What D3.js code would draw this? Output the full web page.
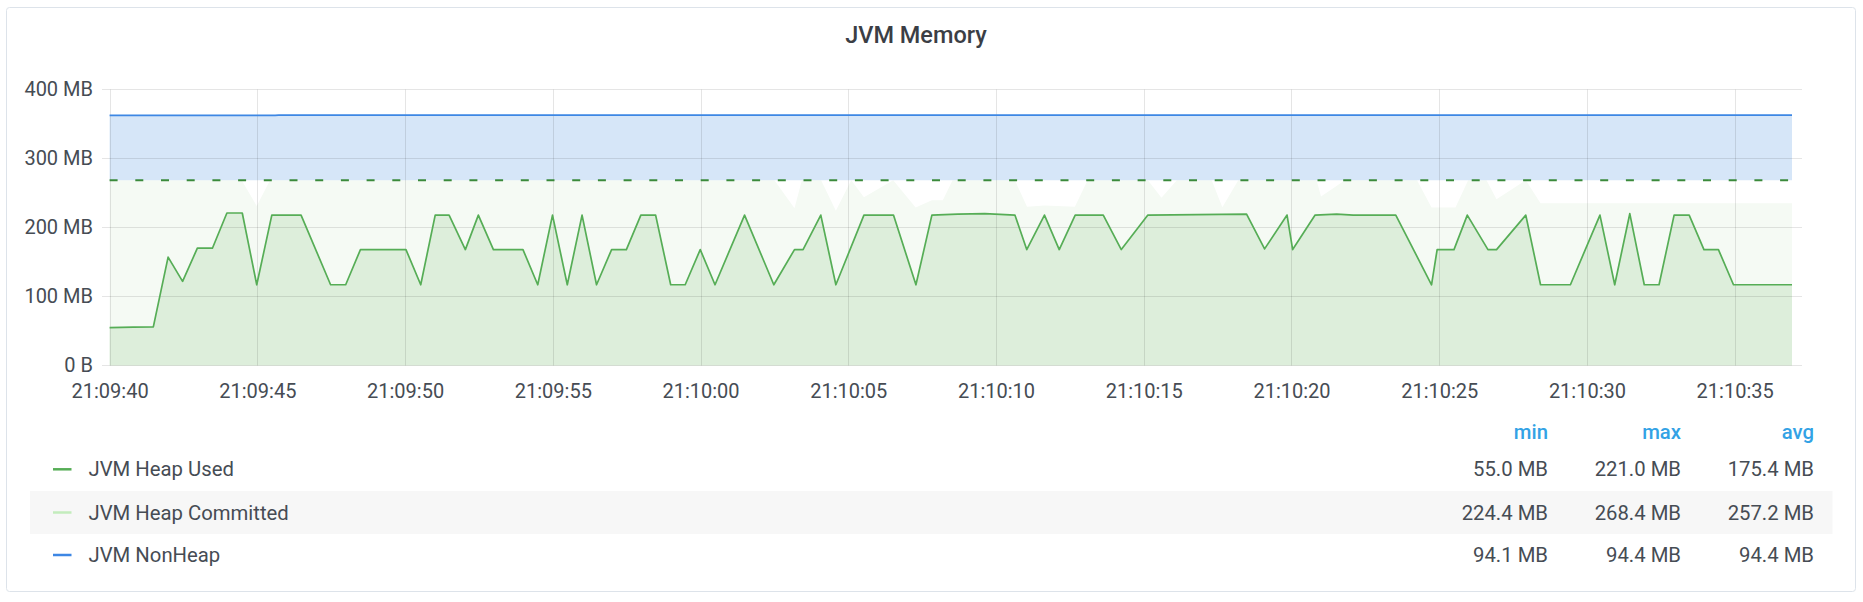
<!DOCTYPE html>
<html><head><meta charset="utf-8">
<script src="https://cdn.jsdelivr.net/npm/d3@7"></script>
<style>
html,body{margin:0;padding:0;background:#fff;}
svg{display:block;font-family:Roboto,"Noto Sans",sans-serif;}
</style></head>
<body>
<svg id="chart" width="1863" height="602"></svg>
<script>
// ---- data (time in seconds after 21:09:40, values in MB) ----
const usedTimes = [0,0.8,1.48,1.98,2.47,2.97,3.48,3.97,4.49,4.98,5.49,6.48,7.48,7.99,8.49,10.03,10.53,11.02,11.49,12.04,12.48,12.99,13.99,14.49,14.99,15.49,15.99,16.48,16.99,17.49,17.98,18.48,18.99,19.48,19.99,20.49,21.49,22.48,23.18,23.47,24.07,24.58,25.53,26.53,27.29,27.83,28.7,29.62,30.64,31.04,31.64,32.14,32.68,33.63,34.24,35.14,38.48,39.09,39.85,40.04,40.8,41.53,42.09,43.53,44.74,44.93,45.5,45.95,46.65,46.94,47.93,48.43,49.44,50.44,50.94,51.45,51.94,52.44,52.95,53.46,53.96,54.45,54.96,56.94];
const usedValues = [55,55.6,56,157,122,170,170,221,221,117,218,218,117,117,168,168,117,218,218,168,218,168,168,117,218,117,218,117,168,168,218,218,117,117,168,117,218,117,168,168,218,117,218,218,117,218,219.5,220,218,168,218,168,218,218,168,218,219.5,169,218,168,218,219.5,218,218,117,168,168,218,168,168,218,117,117,218,117,220,117,117,218,218,168,168,117,117];

const committedTimes = [0,4.47,4.98,5.43,22.5,23.18,23.43,24.08,24.58,25.1,25.53,26.52,27.28,27.83,28.2,28.53,30.64,31.05,31.64,32.67,33.1,35.14,35.6,36.12,37.3,37.66,38.2,40.85,41.0,41.81,44.25,44.74,45.55,45.98,46.6,46.94,47.93,48.43,56.94];
const committedValues = [268.4,268.4,231,268.4,268.4,228,268.4,268.4,224.4,268.4,244,268.4,229,239.5,239.5,268.4,268.4,230,232,230,268.4,268.4,243,268.4,268.4,229.5,268.4,268.4,245,268.4,268.4,229,229,268.4,268.4,241,268.4,235,235];

const nonHeapTimes = [0,5.6,5.72,56.94];
const nonHeapValues = [94.1,94.1,94.4,94.4];

const yTicks = [0,100,200,300,400];
const seriesNames = ["JVM Heap Used","JVM Heap Committed","JVM NonHeap"];
const seriesColors = ["#56ad56","#c3ecbd","#3d87e4"];
const statHeaders = ["min","max","avg"];
const statMin = ["55.0 MB","224.4 MB","94.1 MB"];
const statMax = ["221.0 MB","268.4 MB","94.4 MB"];
const statAvg = ["175.4 MB","257.2 MB","94.4 MB"];

// ---- helpers ----
const START = new Date(2019,0,1,21,9,40);
const toDate = s => new Date(START.getTime() + s*1000);
const zip = (ts, vs) => ts.map((t,i)=>({t:toDate(t), v:vs[i]}));
const used = zip(usedTimes, usedValues);
const committed = zip(committedTimes, committedValues);
const nonHeap = zip(nonHeapTimes, nonHeapValues);
const base = d3.max(committedValues);

const svg = d3.select("#chart");

// panel
svg.append("rect").attr("x",6.5).attr("y",7.5).attr("width",1849).attr("height",584)
  .attr("rx",3).attr("fill","#fff").attr("stroke","#dde3ea");

svg.append("text").attr("x",916).attr("y",35).attr("text-anchor","middle")
  .attr("dominant-baseline","central").attr("font-size",23.5).attr("font-weight",500)
  .attr("fill","#3b3e45").text("JVM Memory");

// scales
const plotL = 102, plotR = 1802, plotT = 89.5, plotB = 365.5;
const x = d3.scaleTime().domain([toDate(usedTimes[0]), toDate(usedTimes[usedTimes.length-1])]).range([109.6, 1792]);
const y = d3.scaleLinear().domain([0,400]).range([plotB, plotT]);

const g = svg.append("g");

// fills
g.append("path").datum(committed)
  .attr("d", d3.area().x(d=>x(d.t)).y0(y(0)).y1(d=>y(d.v)))
  .attr("fill","#f5faf4");
g.append("path").datum(used)
  .attr("d", d3.area().x(d=>x(d.t)).y0(y(0)).y1(d=>y(d.v)))
  .attr("fill","#ddeedb");
g.append("path").datum(nonHeap)
  .attr("d", d3.area().x(d=>x(d.t)).y0(y(base)).y1(d=>y(base+d.v)))
  .attr("fill","#d6e6f8");

// grid
const xTicks = x.ticks(d3.timeSecond.every(5));
g.append("g").selectAll("line").data(yTicks).join("line")
  .attr("x1",plotL).attr("x2",plotR).attr("y1",d=>y(d)).attr("y2",d=>y(d))
  .attr("stroke","rgba(0,0,0,0.1)").attr("stroke-width",1);
g.append("g").selectAll("line").data(xTicks).join("line")
  .attr("x1",d=>Math.round(x(d))+0.5).attr("x2",d=>Math.round(x(d))+0.5)
  .attr("y1",plotT).attr("y2",plotB)
  .attr("stroke","rgba(0,0,0,0.1)").attr("stroke-width",1);

// lines
g.append("line").attr("x1",x(used[0].t)).attr("x2",x(used[used.length-1].t))
  .attr("y1",y(base)).attr("y2",y(base))
  .attr("stroke","#3b8a3b").attr("stroke-width",2).attr("stroke-dasharray","8,17.7");
g.append("path").datum(used)
  .attr("d", d3.line().x(d=>x(d.t)).y(d=>y(d.v)))
  .attr("fill","none").attr("stroke",seriesColors[0]).attr("stroke-width",1.7).attr("stroke-linejoin","round");
g.append("path").datum(nonHeap)
  .attr("d", d3.line().x(d=>x(d.t)).y(d=>y(base+d.v)))
  .attr("fill","none").attr("stroke",seriesColors[2]).attr("stroke-width",1.6);

// axes
const fmtY = v => v===0 ? "0 B" : v + " MB";
const yAxis = svg.append("g").attr("transform",`translate(${plotL},0)`)
  .call(d3.axisLeft(y).tickValues(yTicks).tickFormat(fmtY).tickSize(0).tickPadding(9));
const xAxis = svg.append("g").attr("transform",`translate(0,${plotB})`)
  .call(d3.axisBottom(x).ticks(d3.timeSecond.every(5)).tickFormat(d3.timeFormat("%H:%M:%S")).tickSize(0).tickPadding(18));
[yAxis,xAxis].forEach(a=>{
  a.select(".domain").remove();
  a.selectAll("text").attr("font-size",20).attr("fill","#464c54").attr("font-family","Roboto,sans-serif");
});

// legend
const rowY = [469.3, 512.5, 555];
const colRight = [1548, 1681, 1814];
const leg = svg.append("g").attr("font-size",20.3).attr("font-family","Roboto,sans-serif");
leg.append("rect").attr("x",30).attr("y",491).attr("width",1802.5).attr("height",43).attr("fill","#f7f7f7");
leg.selectAll("text.hdr").data(statHeaders).join("text").attr("class","hdr")
  .attr("x",(d,i)=>colRight[i]).attr("y",432).attr("text-anchor","end")
  .attr("dominant-baseline","central").attr("fill","#33a2e5").attr("font-weight",500).text(d=>d);
seriesNames.forEach((name,i)=>{
  leg.append("line").attr("x1",53).attr("x2",71.5).attr("y1",rowY[i]).attr("y2",rowY[i])
    .attr("stroke",seriesColors[i]).attr("stroke-width",2.5);
  leg.append("text").attr("x",88.5).attr("y",rowY[i]).attr("dominant-baseline","central")
    .attr("fill","#464c54").text(name);
  [statMin[i],statMax[i],statAvg[i]].forEach((v,j)=>{
    leg.append("text").attr("x",colRight[j]).attr("y",rowY[i]).attr("text-anchor","end")
      .attr("dominant-baseline","central").attr("fill","#464c54").text(v);
  });
});
</script>
</body></html>
